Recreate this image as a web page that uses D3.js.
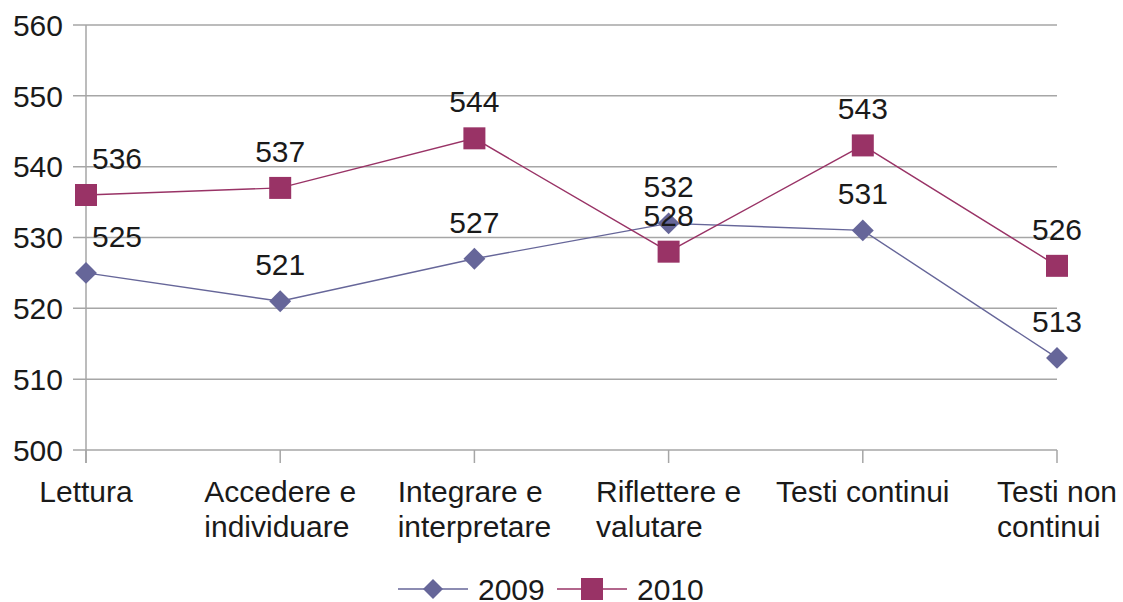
<!DOCTYPE html>
<html><head><meta charset="utf-8">
<script src="https://cdn.jsdelivr.net/npm/d3@7"></script>
<style>body{margin:0;background:#fff}svg{display:block}</style>
</head><body>
<svg id="c" width="1123" height="602"></svg>
<script>
const categories = [["Lettura"],["Accedere e","individuare"],["Integrare e","interpretare"],["Riflettere e","valutare"],["Testi continui"],["Testi non","continui"]];
const values2009 = [525, 521, 527, 532, 531, 513];
const values2010 = [536, 537, 544, 528, 543, 526];
const seriesNames = ["2009", "2010"];
const yTicks = [500, 510, 520, 530, 540, 550, 560];

const svg = d3.select("#c");
const font = "Liberation Sans, Arial, sans-serif";
const fs = 30;
const grid = "#a6a6a6";
const c2009 = "#666699", c2010 = "#993366";

const x = d3.scalePoint().domain(d3.range(categories.length)).range([86, 1057]).padding(0);
const y = d3.scaleLinear().domain([500, 560]).range([450, 25]);

// gridlines
svg.append("g").selectAll("line").data(yTicks).join("line")
  .attr("x1", 73).attr("x2", 1057).attr("y1", d => y(d)).attr("y2", d => y(d))
  .attr("stroke", grid).attr("stroke-width", 1.5);
// y axis line
svg.append("line").attr("x1", 86).attr("x2", 86).attr("y1", y(560)).attr("y2", 463)
  .attr("stroke", grid).attr("stroke-width", 1.5);
// x ticks
svg.append("g").selectAll("line").data(d3.range(categories.length)).join("line")
  .attr("x1", d => x(d)).attr("x2", d => x(d)).attr("y1", y(500)).attr("y2", 463)
  .attr("stroke", grid).attr("stroke-width", 1.5);

// y labels
svg.append("g").selectAll("text").data(yTicks).join("text")
  .attr("x", 63).attr("y", d => y(d)).attr("dy", "0.36em")
  .attr("text-anchor", "end").attr("font-family", font).attr("font-size", fs).attr("fill", "#1a1a1a")
  .text(d => d);

// x labels: left-aligned lines, block centered on tick
const measure = svg.append("text").attr("font-family", font).attr("font-size", fs);
categories.forEach((lines, i) => {
  let w = 0;
  lines.forEach(l => { measure.text(l); w = Math.max(w, measure.node().getComputedTextLength()); });
  const left = x(i) - w / 2;
  lines.forEach((l, j) => {
    svg.append("text").attr("x", left).attr("y", 502 + j * 35)
      .attr("font-family", font).attr("font-size", fs).attr("fill", "#1a1a1a").text(l);
  });
});
measure.remove();

const line = d3.line().x((d, i) => x(i)).y(d => y(d));
function series(vals, color, shape) {
  svg.append("path").attr("d", line(vals)).attr("fill", "none").attr("stroke", color).attr("stroke-width", 1.4);
  const g = svg.append("g");
  vals.forEach((v, i) => {
    if (shape === "diamond") {
      g.append("path").attr("d", d3.symbol().type(d3.symbolSquare).size(240)()).attr("transform", `translate(${x(i)},${y(v)}) rotate(45)`).attr("fill", color);
    } else {
      g.append("rect").attr("x", x(i) - 11).attr("y", y(v) - 11).attr("width", 22).attr("height", 22).attr("fill", color);
    }
  });
  svg.append("g").selectAll("text").data(vals).join("text")
    .attr("x", (d, i) => i === 0 ? x(i) + 31 : x(i)).attr("y", d => y(d) - 26)
    .attr("text-anchor", "middle").attr("font-family", font).attr("font-size", fs).attr("fill", "#1a1a1a")
    .text(d => d);
}
series(values2009, c2009, "diamond");
series(values2010, c2010, "square");

// legend
const ly = 589;
const leg = [{name: seriesNames[0], color: c2009, shape: "diamond", x0: 398}, {name: seriesNames[1], color: c2010, shape: "square", x0: 557}];
leg.forEach(l => {
  svg.append("line").attr("x1", l.x0).attr("x2", l.x0 + 70).attr("y1", ly).attr("y2", ly).attr("stroke", l.color).attr("stroke-width", 1.4);
  const cx = l.x0 + 35;
  if (l.shape === "diamond") {
    svg.append("path").attr("d", d3.symbol().type(d3.symbolSquare).size(200)()).attr("transform", `translate(${cx},${ly}) rotate(45)`).attr("fill", l.color);
  } else {
    svg.append("rect").attr("x", cx - 11).attr("y", ly - 11).attr("width", 22).attr("height", 22).attr("fill", l.color);
  }
  svg.append("text").attr("x", l.x0 + 80).attr("y", ly).attr("dy", "0.36em").attr("font-family", font).attr("font-size", fs).attr("fill", "#1a1a1a").text(l.name);
});
</script>
</body></html>
